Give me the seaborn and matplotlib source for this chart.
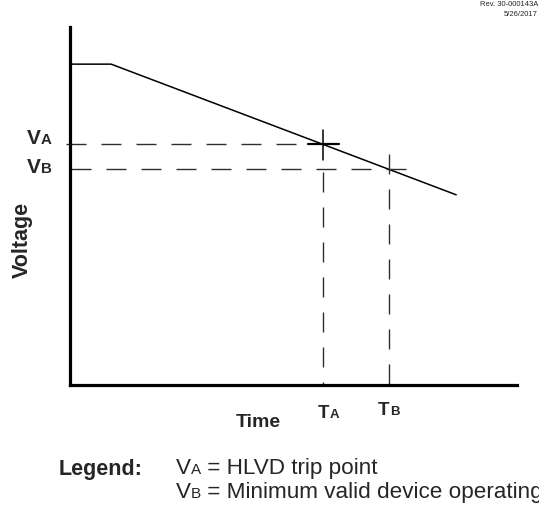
import matplotlib
matplotlib.use("Agg")
import matplotlib.pyplot as plt
import seaborn as sns
import pandas as pd

# Supply voltage over time (arbitrary units)
time = [0.0, 0.92, 8.64]
voltage = [7.17, 7.17, 4.25]

# Trip thresholds and the moments the supply crosses them
v_a = 5.38   # HLVD trip point
v_b = 4.82   # minimum valid device operating voltage
t_a = 5.66
t_b = 7.14

legend_lines = [("V", "A", " = HLVD trip point"),
                ("V", "B", " = Minimum valid device operating voltage")]
rev_lines = ["Rev. 30-000143A", "5/26/2017"]

sns.set_style("white")
plt.rcParams["font.family"] = ["Liberation Sans", "DejaVu Sans"]

W, H = 539, 509
fig = plt.figure(figsize=(W / 100, H / 100), dpi=100)
ax = fig.add_axes([70 / W, 1 - 385 / H, (517 - 70) / W, (385 - 27) / H])
ax.set_xlim(0, 10)
ax.set_ylim(0, 8)

df = pd.DataFrame({"Time": time, "Voltage": voltage})
sns.lineplot(data=df, x="Time", y="Voltage", color="black", linewidth=1.1,
             ax=ax, sort=False)

dash = (0, (14.4, 10.8))
gray = "#2e2e2e"
# threshold guides
ax.plot([-0.09, t_a - 0.34], [v_a, v_a], color=gray, lw=1.0, ls=dash, clip_on=False)
ax.plot([0.02, 7.67], [v_b, v_b], color=gray, lw=1.0, ls=dash, clip_on=False)
ax.plot([t_a, t_a], [v_a - 0.62, 0], color=gray, lw=1.0, ls=dash, clip_on=False)
ax.plot([t_b, t_b], [v_b + 0.34, 0], color=gray, lw=1.0, ls=dash, clip_on=False)
# crosshair at the trip point
ax.plot([t_a - 0.34, t_a + 0.36], [v_a, v_a], color="black", lw=1.6)
ax.plot([t_a, t_a], [v_a + 0.31, v_a - 0.35], color="black", lw=1.1)

for side in ("top", "right"):
    ax.spines[side].set_visible(False)
for side in ("left", "bottom"):
    ax.spines[side].set_linewidth(2.3)
    ax.spines[side].set_color("black")

ax.set_yticks([])
ax.set_xticks([t_a, t_b])
ax.set_xticklabels([])
ax.tick_params(axis="x", direction="in", length=7, width=1.0, color="black")
ax.set_xlabel("")
ax.set_ylabel("")


def chain(first, parts):
    """Place text pieces one after another on a shared baseline."""
    prev, prev_size = first
    for text, size, weight, kern in parts:
        prev = ax.annotate(text, xy=(1, 0), xycoords=prev,
                           xytext=(kern, 0.21 * prev_size), textcoords="offset points",
                           ha="left", va="baseline", fontsize=size,
                           fontweight=weight, annotation_clip=False)
        prev_size = size
    return prev


def cap_label(xy, offset, big, small, s_big, s_small, kern):
    t = ax.annotate(big, xy=xy, xycoords="data", xytext=offset,
                    textcoords="offset points", ha="left", va="baseline",
                    fontsize=s_big, fontweight="bold", annotation_clip=False)
    chain((t, s_big), [(small, s_small, "bold", kern)])


# threshold labels on the voltage axis
cap_label((0, v_a), (-31, 0), "V", "A", 15, 10.8, 0)
cap_label((0, v_b), (-31, -2.9), "V", "B", 15, 10.8, 0)
# time labels below the axis
cap_label((t_a, 0), (-3.6, -23.8), "T", "A", 13.5, 9.5, 0)
cap_label((t_b, 0), (-7.9, -21.6), "T", "B", 13.5, 9.5, 0)

fig.text(22 / W, 1 - 240 / H, "Voltage", rotation=90, ha="center", va="center",
         fontsize=15.5, fontweight="bold")
fig.text(258 / W, 1 - 427 / H, "Time", ha="center", va="baseline",
         fontsize=14, fontweight="bold")

# legend block
fig.text(59 / W, 1 - 475 / H, "Legend:", ha="left", va="baseline",
         fontsize=15.5, fontweight="bold")
for i, (big, small, rest) in enumerate(legend_lines):
    y = 1 - (474 + 24 * i) / H
    t = fig.text(176 / W, y, big, ha="left", va="baseline", fontsize=16.2)
    chain((t, 16.2), [(small, 11, "normal", 0), (rest, 16.2, "normal", 0)])

for i, line in enumerate(rev_lines):
    fig.text(538 / W, 1 - (4 + 10 * i) / H, line, ha="right", va="center",
             fontsize=5.5)

fig.savefig("out.png", dpi=100, facecolor="white")
